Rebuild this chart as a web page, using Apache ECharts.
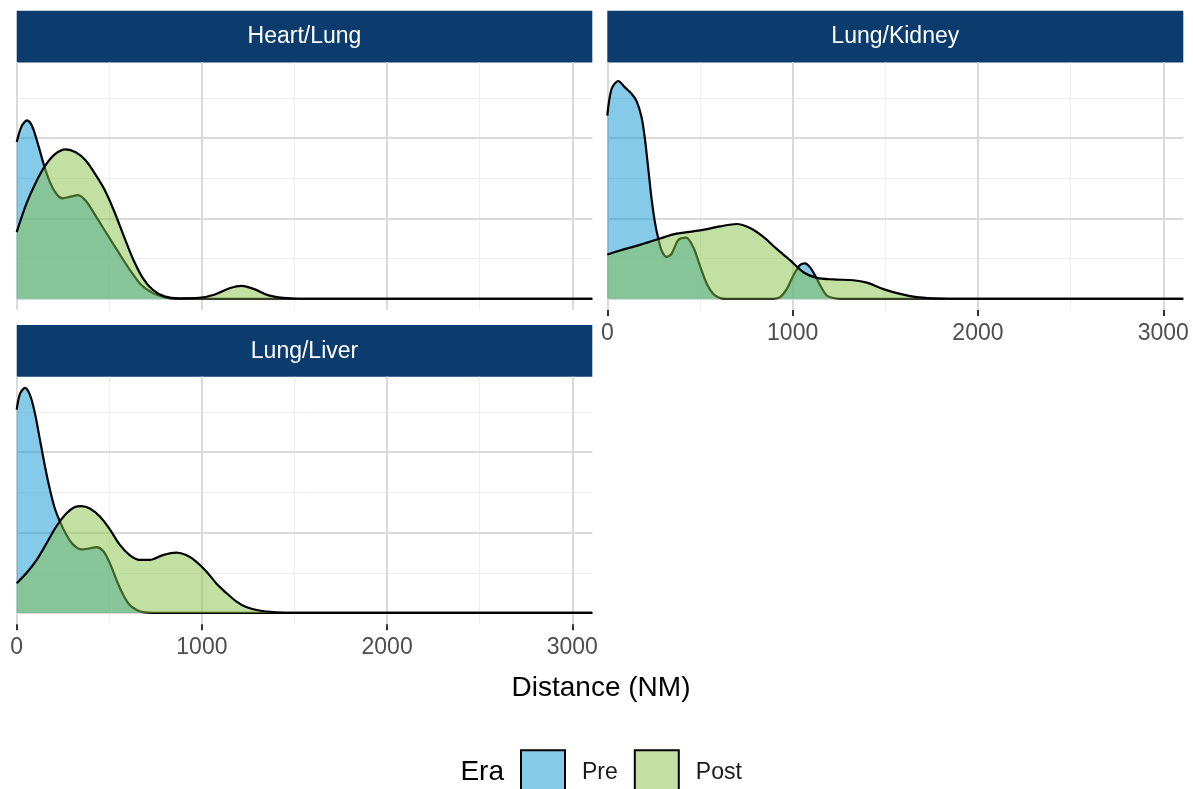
<!DOCTYPE html>
<html>
<head>
<meta charset="utf-8">
<script src="https://cdn.jsdelivr.net/npm/echarts@6.0.0/dist/echarts.min.js"></script>
<style>
html, body { margin: 0; padding: 0; background: #fff; }
#main { width: 1193px; height: 789px; }
</style>
</head>
<body>
<div id="main"></div>
<script>
// facets and eras
var panels = ['Heart/Lung', 'Lung/Kidney', 'Lung/Liver'];
var eras = ['Pre', 'Post'];
var xTicks = [0, 1000, 2000, 3000];

// density estimates (relative units)
var hlPreX = [0, 27, 56, 83, 114, 145, 176, 213, 248, 290, 331, 373, 424, 486, 549, 611, 673, 735, 797, 859, 1000, 2000, 3108];
var hlPreY = [1.95, 2.15, 2.22, 2.15, 1.93, 1.68, 1.47, 1.31, 1.25, 1.27, 1.29, 1.22, 1.04, 0.81, 0.58, 0.36, 0.17, 0.07, 0.02, 0, 0, 0, 0];
var hlPostX = [0, 52, 104, 155, 207, 263, 321, 373, 424, 476, 528, 580, 631, 683, 735, 797, 880, 983, 1066, 1149, 1215, 1283, 1356, 1439, 1521, 2000, 3108];
var hlPostY = [0.83, 1.18, 1.45, 1.66, 1.80, 1.86, 1.82, 1.72, 1.55, 1.35, 1.08, 0.77, 0.48, 0.25, 0.11, 0.03, 0.005, 0.01, 0.05, 0.13, 0.16, 0.12, 0.045, 0.01, 0, 0, 0];

var lkPreX = [0, 23, 59, 95, 131, 158, 185, 203, 221, 239, 257, 275, 293, 320, 347, 383, 425, 464, 500, 536, 572, 608, 644, 896, 932, 968, 1004, 1040, 1067, 1094, 1121, 1148, 1184, 1220, 1256, 2000, 3108];
var lkPreY = [2.28, 2.61, 2.71, 2.63, 2.55, 2.46, 2.26, 1.99, 1.62, 1.24, 0.95, 0.75, 0.60, 0.52, 0.56, 0.73, 0.76, 0.64, 0.41, 0.19, 0.06, 0.01, 0, 0, 0.02, 0.12, 0.29, 0.42, 0.44, 0.39, 0.29, 0.17, 0.04, 0.01, 0, 0, 0];
var lkPostX = [0, 68, 176, 284, 374, 500, 608, 698, 770, 842, 914, 986, 1058, 1130, 1220, 1328, 1400, 1490, 1580, 1669, 1759, 1849, 2000, 3108];
var lkPostY = [0.55, 0.60, 0.67, 0.75, 0.81, 0.85, 0.90, 0.93, 0.88, 0.77, 0.62, 0.48, 0.33, 0.26, 0.24, 0.23, 0.20, 0.12, 0.06, 0.02, 0.005, 0, 0, 0];

var llPreX = [0, 18, 45, 72, 99, 126, 153, 180, 206, 233, 269, 305, 350, 386, 431, 467, 503, 539, 574, 610, 646, 682, 736, 1000, 2000, 3108];
var llPreY = [2.53, 2.73, 2.80, 2.71, 2.48, 2.15, 1.82, 1.53, 1.30, 1.14, 0.97, 0.85, 0.79, 0.80, 0.82, 0.77, 0.62, 0.41, 0.23, 0.10, 0.04, 0.01, 0, 0, 0, 0];
var llPostX = [0, 54, 108, 162, 215, 269, 314, 350, 395, 449, 503, 556, 610, 664, 718, 790, 862, 915, 969, 1023, 1077, 1131, 1185, 1239, 1310, 1400, 1490, 2000, 3108];
var llPostY = [0.37, 0.50, 0.66, 0.87, 1.08, 1.24, 1.32, 1.33, 1.30, 1.20, 1.04, 0.85, 0.72, 0.66, 0.66, 0.72, 0.75, 0.72, 0.64, 0.52, 0.37, 0.25, 0.145, 0.075, 0.03, 0.008, 0, 0, 0];

(function () {
    var myChart = echarts.init(document.getElementById('main'));

    var FONT = '"Liberation Sans", Arial, sans-serif';
    var preColor = '#0e95d5';
    var postColor = '#85c145';
    var majorGrid = '#dadada';
    var minorGrid = '#eeeeee';
    var stripColor = '#0b3c6d';
    var xMax = 3108;

    // panel boxes in pixels
    var boxes = [
        {left: 16.7, top: 62.5, width: 575.6, height: 247.5},
        {left: 607.3, top: 62.5, width: 576, height: 247.5},
        {left: 16.7, top: 376.7, width: 575.6, height: 247.5}
    ];
    var showX = [false, true, true];

    var curves = [
        [[hlPreX, hlPreY], [hlPostX, hlPostY]],
        [[lkPreX, lkPreY], [lkPostX, lkPostY]],
        [[llPreX, llPreY], [llPostX, llPostY]]
    ];

    var grid = [], xAxis = [], yAxis = [], series = [], graphic = [];

    boxes.forEach(function (b, g) {
        grid.push({left: b.left, top: b.top, width: b.width, height: b.height});

        // minor lines first, major on top
        xAxis.push({
            type: 'value', gridIndex: g, position: 'bottom', min: 0, max: xMax, interval: 500, z: 0,
            axisLine: {show: false}, axisTick: {show: false}, axisLabel: {show: false},
            splitLine: {show: true, showMaxLine: false, lineStyle: {color: minorGrid, width: 1}}
        });
        xAxis.push({
            type: 'value', gridIndex: g, position: 'bottom', min: 0, max: xMax, interval: 1000, z: 1,
            axisLine: {show: false, onZero: false},
            axisTick: {show: showX[g], length: 6, customValues: xTicks, lineStyle: {color: '#333333', width: 2}},
            axisLabel: {
                show: showX[g], customValues: xTicks, margin: 12,
                fontFamily: FONT, fontSize: 23, color: '#4d4d4d',
                formatter: function (v) { return v % 1000 === 0 ? String(v) : ''; }
            },
            splitLine: {show: true, lineStyle: {color: majorGrid, width: 2}}
        });

        yAxis.push({
            type: 'value', gridIndex: g, position: 'left', min: -0.14, max: 2.94, splitNumber: 6,
            minInterval: 0.5, maxInterval: 0.5, z: 0,
            axisLine: {show: false}, axisTick: {show: false}, axisLabel: {show: false},
            splitLine: {show: true, showMinLine: false, showMaxLine: false, lineStyle: {color: minorGrid, width: 1}}
        });
        yAxis.push({
            type: 'value', gridIndex: g, position: 'left', min: -0.14, max: 2.94, splitNumber: 3,
            minInterval: 1, maxInterval: 1, z: 1,
            axisLine: {show: false}, axisTick: {show: false}, axisLabel: {show: false},
            splitLine: {show: true, showMinLine: false, showMaxLine: false, lineStyle: {color: majorGrid, width: 2}}
        });

        eras.forEach(function (era, k) {
            var xs = curves[g][k][0], ys = curves[g][k][1];
            var col = k === 0 ? preColor : postColor;
            series.push({
                name: era,
                type: 'line',
                xAxisIndex: g * 2 + 1,
                yAxisIndex: g * 2 + 1,
                data: xs.map(function (x, i) { return [x, ys[i]]; }),
                smooth: 0.3,
                symbol: 'none',
                silent: true,
                z: 2 + k,
                itemStyle: {color: col},
                lineStyle: {color: '#000', width: 2.2},
                areaStyle: {color: col, opacity: 0.5}
            });
        });

        // facet strip
        graphic.push({
            type: 'rect', silent: true,
            shape: {x: b.left, y: b.top - 51.7, width: b.width, height: 51.7},
            style: {fill: stripColor}
        });
        graphic.push({
            type: 'text', silent: true,
            style: {
                text: panels[g], x: b.left + b.width / 2, y: b.top - 25.5,
                fill: '#ffffff', font: '23px ' + FONT, align: 'center', verticalAlign: 'middle'
            }
        });
    });

    graphic.push({
        type: 'text', silent: true,
        style: {text: 'Distance (NM)', x: 601, y: 688, fill: '#000', font: '28px ' + FONT,
            align: 'center', verticalAlign: 'middle'}
    });
    graphic.push({
        type: 'text', silent: true,
        style: {text: 'Era', x: 504, y: 772, fill: '#000', font: '28px ' + FONT,
            align: 'right', verticalAlign: 'middle'}
    });

    var option = {
        animation: false,
        grid: grid,
        xAxis: xAxis,
        yAxis: yAxis,
        legend: {
            left: 520, top: 749.3, padding: 0, orient: 'horizontal',
            itemWidth: 44, itemHeight: 44, itemGap: 16, selectedMode: false,
            textStyle: {fontFamily: FONT, fontSize: 23, color: '#1a1a1a', padding: [0, 0, 0, 12]},
            data: [
                {name: 'Pre', icon: 'rect', itemStyle: {color: '#86caea', borderColor: '#000', borderWidth: 2}},
                {name: 'Post', icon: 'rect', itemStyle: {color: '#c2e0a2', borderColor: '#000', borderWidth: 2}}
            ]
        },
        graphic: graphic,
        series: series
    };

    myChart.setOption(option);
})();
</script>
</body>
</html>
